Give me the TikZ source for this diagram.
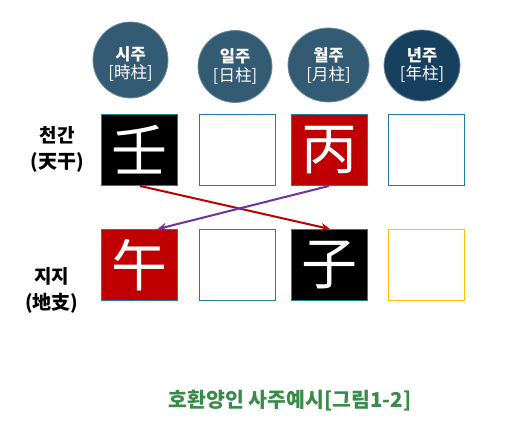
\documentclass[tikz,border=0pt]{standalone}
\usepackage{fontspec}
\newfontfamily\krfont{Noto Sans CJK KR}
\newfontfamily\hanfont{Noto Sans CJK SC}
\usetikzlibrary{arrows.meta,shapes.geometric}
\definecolor{pillar}{HTML}{335B74}
\definecolor{pillardark}{HTML}{17405E}
\definecolor{boxline}{HTML}{1F7FA0}
\definecolor{darkred}{HTML}{C00000}
\definecolor{arrowpurple}{HTML}{7030A0}
\definecolor{gold}{HTML}{FFC000}
\definecolor{capgreen}{HTML}{3A8A4A}
\begin{document}
\begin{tikzpicture}[x=1pt,y=-1pt,
  pil/.style={ellipse, minimum width=75pt, minimum height=72pt, fill=pillar, draw=pillar!70!white, line width=0.8pt, text=white, align=center, font=\krfont\fontsize{16.5}{18.5}\selectfont, inner sep=0pt},
  cell/.style={rectangle, minimum width=76pt, minimum height=71pt, draw=boxline, line width=0.9pt, inner sep=0pt, text=white, font=\hanfont\fontsize{56}{56}\selectfont},
  lab/.style={font=\krfont\bfseries\fontsize{19}{26}\selectfont, align=center},
  arr/.style={line width=2pt, -{Stealth[length=9pt,width=8pt]}}
]
\useasboundingbox (0,0) rectangle (512,423);
% pillars
\node[pil, minimum width=75pt, minimum height=76pt] (p1) at (130.5,60) {};
\node[pil, minimum width=74pt, minimum height=72pt] (p2) at (235,66.5) {};
\node[pil, minimum width=81pt, minimum height=74pt] (p3) at (328.5,65) {};
\node[pil, minimum width=76pt, minimum height=71pt, fill=pillardark] (p4) at (422,65.5) {};
\node[pil, draw=none, fill=none, minimum size=0pt] (t1txt) at (130.5,64) {{\bfseries 시주}\\{[}時柱{]}};
\node[pil, draw=none, fill=none, minimum size=0pt] (t2txt) at (235,66.5) {{\bfseries 일주}\\{[}日柱{]}};
\node[pil, draw=none, fill=none, minimum size=0pt] (t3txt) at (328.5,65.5) {{\bfseries 월주}\\{[}月柱{]}};
\node[pil, draw=none, fill=none, minimum size=0pt] (t4txt) at (422,65) {{\bfseries 년주}\\{[}年柱{]}};
% top row
\node[cell, fill=black] (t1) at (139.5,150) {壬};
\node[cell] (t2) at (237.5,150) {};
\node[cell, fill=darkred] (t3) at (329,150) {丙};
\node[cell] (t4) at (426,150) {};
% bottom row
\node[cell, fill=darkred] (b1) at (139.5,265) {午};
\node[cell] (b2) at (237.5,265) {};
\node[cell, fill=black] (b3) at (329,265) {子};
\node[cell, draw=gold] (b4) at (426,265) {};
% labels
\node[lab] (l1) at (57,149) {천간\\(天干)};
\node[lab] (l2) at (52,290) {지지\\(地支)};
% arrows
\draw[arr, darkred] ([xshift=0.5pt]t1.south) -- ([xshift=1pt]b3.north);
\draw[arr, arrowpurple] (t3.south) -- ([xshift=18pt]b1.north);
% caption
\node[font=\krfont\bfseries\fontsize{20.5}{24}\selectfont, text=capgreen] (cap) at (290,401) {호환양인 사주예시[그림1-2]};
\end{tikzpicture}
\end{document}
